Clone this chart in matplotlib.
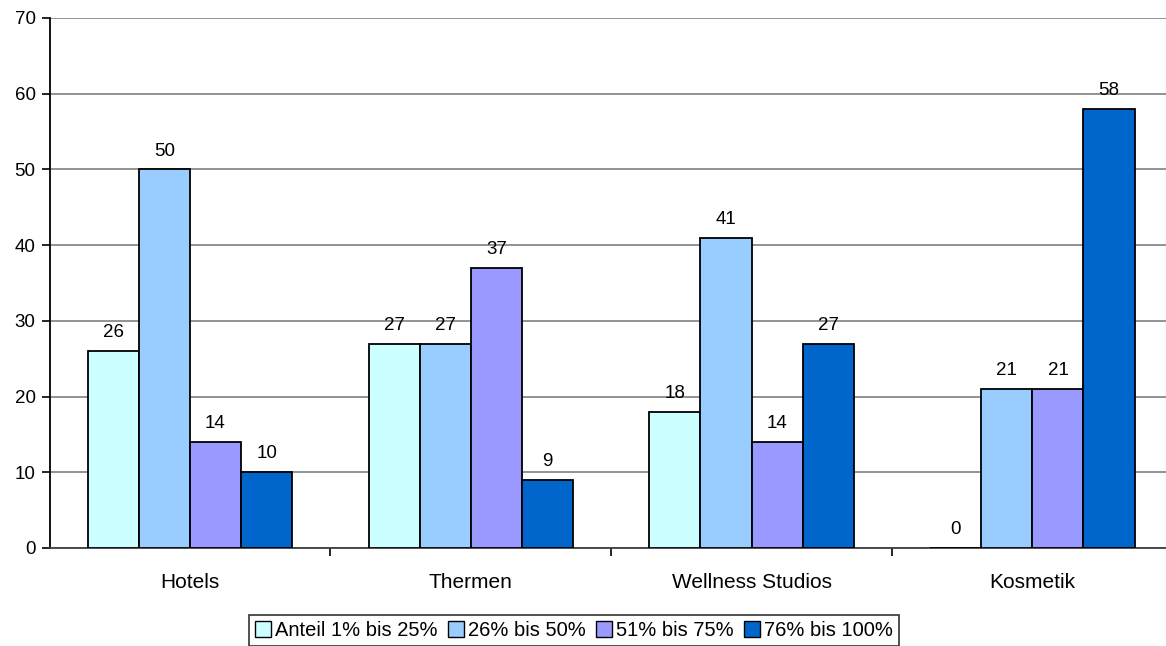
import matplotlib.pyplot as plt
import numpy as np

plt.rcParams['font.family'] = ['Liberation Sans', 'DejaVu Sans']

categories = ['Hotels', 'Thermen', 'Wellness Studios', 'Kosmetik']
series_names = ['Anteil 1% bis 25%', '26% bis 50%', '51% bis 75%', '76% bis 100%']
anteil_1_25 = [26, 27, 18, 0]
anteil_26_50 = [50, 27, 41, 21]
anteil_51_75 = [14, 37, 14, 21]
anteil_76_100 = [10, 9, 27, 58]
colors = ['#CCFFFF', '#99CCFF', '#9999FF', '#0066CC']

series = [anteil_1_25, anteil_26_50, anteil_51_75, anteil_76_100]

fig = plt.figure(figsize=(11.66, 6.46), dpi=100)
# plot area runs a bit past the right edge of the picture, like the original
ax = fig.add_axes([49.5 / 1166, 1 - 548 / 646, 1123.3 / 1166, (548 - 18) / 646])

x = np.arange(len(categories))
w = 0.182
bars = []
for i, (vals, name, c) in enumerate(zip(series, series_names, colors)):
    b = ax.bar(x + (i - 1.5) * w, vals, w, color=c, edgecolor='black',
               linewidth=1.3, label=name, zorder=3)
    bars.append(b)
    for xi, v in zip(x + (i - 1.5) * w, vals):
        ax.text(xi, v + 1.3, str(v), ha='center', va='bottom', fontsize=13.5)

ax.set_xlim(-0.5, 3.5)
ax.set_ylim(0, 70)
ax.set_yticks(range(0, 71, 10))
ax.yaxis.grid(True, color='#808080', linewidth=1.2, zorder=0)
ax.set_axisbelow(True)

ax.set_xticks([0.5, 1.5, 2.5])
ax.set_xticks(x, minor=True)
ax.set_xticklabels([])
ax.set_xticklabels(categories, minor=True, fontsize=15)
ax.tick_params(axis='x', which='major', length=6, width=1.2, color='black')
ax.tick_params(axis='x', which='minor', length=0, pad=18)
ax.tick_params(axis='y', length=6, width=1.2, labelsize=13.5, pad=4)

for s in ['top', 'right']:
    ax.spines[s].set_visible(False)
ax.spines['left'].set_linewidth(1.3)
ax.spines['bottom'].set_linewidth(1.3)
ax.spines['bottom'].set_color('#404040')

leg = fig.legend(handles=bars, labels=series_names, loc='upper left',
                 bbox_to_anchor=(249 / 1166, 1 - 615 / 646), ncol=4,
                 fontsize=14.5, frameon=True, fancybox=False, shadow=False,
                 handlelength=0.8, handleheight=0.8, handletextpad=0.2,
                 columnspacing=0.5, borderpad=0.3, borderaxespad=0)
leg.get_frame().set_edgecolor('black')
leg.get_frame().set_linewidth(1.2)
for h in leg.legend_handles:
    h.set_linewidth(1.0)

fig.savefig('out.png', dpi=100)
